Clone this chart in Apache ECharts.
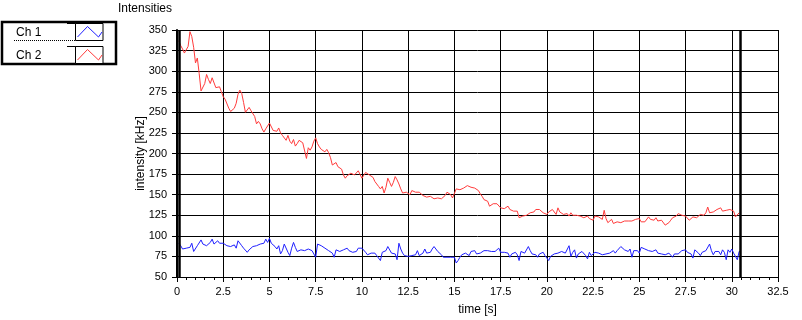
<!DOCTYPE html>
<html><head><meta charset="utf-8">
<script src="https://cdn.jsdelivr.net/npm/echarts@6/dist/echarts.min.js"></script>
<style>html,body{margin:0;padding:0;background:#fff}#c{width:802px;height:320px}</style>
</head><body><div id="c"></div><script>
const chartTitle = 'Intensities';
const channelNames = ['Ch 1', 'Ch 2'];
const channelColors = ['#1f1fff', '#ff3b3b'];
const xAxisName = 'time [s]';
const yAxisName = 'intensity [kHz]';
const xRange = { min: 0, max: 32.5, interval: 2.5 };
const yRange = { min: 50, max: 350, interval: 25 };
const cursorTimes = [0.1, 30.48];
const sampleStart = 0.1;
const sampleStep = 0.1;

// Ch 1 (blue), samples every 0.1 s starting at 0.1 s
const ch1Values = [
91,88,84,83,85,86,86,91,81,83,
88,89,95,90,88,88,90,92,96,90,
92,94,91,89,91,90,88,88,87,87,
89,85,94,93,88,85,86,80,83,83,
87,89,88,90,90,91,91,96,92,97,
91,90,87,84,88,78,82,90,88,80,
76,85,92,86,81,80,83,82,82,83,
84,85,82,80,74,90,89,88,87,85,
83,82,82,79,74,83,82,81,79,83,
82,85,82,84,80,82,81,85,84,85,
83,80,77,79,79,81,79,76,75,70,
80,79,82,87,85,79,79,78,71,91,
84,79,76,75,75,76,76,76,77,82,
76,78,79,84,79,80,80,84,87,86,
81,79,77,74,72,74,75,74,73,74,
67,70,74,77,78,79,80,76,81,79,
82,78,79,79,81,82,81,82,80,81,
81,81,82,85,80,82,80,78,79,74,
78,79,80,77,70,81,82,79,81,87,
82,78,78,77,74,78,80,80,76,75,
70,75,77,78,77,79,78,81,80,79,
78,88,75,80,83,73,78,80,81,79,
76,72,80,76,76,80,79,79,78,77,
78,78,80,79,80,82,79,82,82,87,
85,83,82,81,84,74,82,81,82,79,
86,86,84,84,82,81,81,79,83,79,
81,78,78,77,75,79,77,74,78,77,
78,80,82,81,83,80,80,78,73,83,
82,79,76,80,80,82,81,90,82,77,
81,79,81,77,83,80,71,83,80,84,
79,79,71,81,80
];

// Ch 2 (red), samples every 0.1 s starting at 0.1 s
const ch2Values = [
337,331,327,322,322,330,348,342,329,310,
316,297,276,274,285,296,290,285,292,291,
280,280,281,275,269,266,265,255,251,251,
255,261,272,277,273,262,250,248,256,252,
251,245,236,239,236,230,226,230,228,237,
238,228,228,227,231,225,222,220,216,222,
215,212,217,209,212,216,215,213,211,194,
207,204,208,215,219,212,208,205,203,202,
205,201,195,186,187,189,184,186,181,174,
170,173,175,176,174,174,176,179,179,170,
171,177,176,174,175,171,166,164,160,157,
160,152,159,170,165,160,165,172,168,163,
157,152,153,153,152,150,155,157,153,154,
153,152,149,149,147,147,148,149,145,147,
146,146,145,144,149,153,151,150,146,144,
157,159,156,158,158,160,161,163,159,157,
158,157,155,151,148,144,143,142,136,137,
139,140,139,140,134,134,133,135,136,132,
134,130,132,130,122,123,124,126,125,126,
128,129,129,132,133,132,131,128,127,126,
129,131,132,133,126,134,129,129,126,128,
127,124,128,125,124,125,123,124,124,122,
121,124,121,122,119,124,124,123,121,120,
131,121,116,118,120,115,114,117,115,116,
117,118,117,118,117,118,117,120,120,121,
117,116,117,117,123,120,118,119,122,118,
118,119,117,113,112,116,119,122,123,124,
127,126,125,125,124,124,119,119,123,124,
122,120,126,126,125,128,135,128,127,129,
131,132,134,134,130,132,131,133,132,131,
130,123,123,128
];

function toPairs(vals) {
  return vals.map((v, i) => [Math.round((sampleStart + i * sampleStep) * 100) / 100, v]);
}

const FONT = 'Liberation Sans';
const chart = echarts.init(document.getElementById('c'), null, { renderer: 'canvas' });

const legendGraphics = [];
legendGraphics.push({ type: 'rect', shape: { x: 2, y: 22, width: 114, height: 42 },
  style: { fill: '#fff', stroke: '#000', lineWidth: 2.5 }, z: 10 });
const rowTops = [23.5, 46.5];
channelNames.forEach((name, i) => {
  const top = rowTops[i];
  legendGraphics.push({ type: 'text', x: 16, y: top + 9, z: 11,
    style: { text: name, font: '12px "' + FONT + '"', fill: '#000', textVerticalAlign: 'middle' } });
  legendGraphics.push({ type: 'line', shape: { x1: 14, y1: top + 17, x2: 75, y2: top + 17 }, z: 11,
    style: { stroke: '#000', lineWidth: 1, lineDash: [1, 1] } });
  legendGraphics.push({ type: 'line', shape: { x1: 67, y1: top, x2: 103, y2: top }, z: 11,
    style: { stroke: '#000', lineWidth: 1 } });
  legendGraphics.push({ type: 'rect', shape: { x: 75.5, y: top, width: 27.5, height: 17 }, z: 11,
    style: { fill: '#fff', stroke: '#000', lineWidth: 1 } });
  legendGraphics.push({ type: 'polyline', z: 12,
    shape: { points: [[77.5, top + 13.5], [87.5, top + 3], [98.5, top + 13.5], [102, top + 8.5]] },
    style: { stroke: channelColors[i], lineWidth: 1, fill: null } });
});

chart.setOption({
  animation: false,
  backgroundColor: '#fff',
  textStyle: { fontFamily: FONT },
  title: { text: chartTitle, left: 118, top: 3, padding: 0,
    textStyle: { fontFamily: FONT, fontSize: 12, fontWeight: 'normal', color: '#000' } },
  graphic: legendGraphics,
  grid: { left: 177, top: 30, width: 601, height: 247, containLabel: false, outerBoundsMode: 'none' },
  xAxis: {
    type: 'value', min: xRange.min, max: xRange.max, interval: xRange.interval,
    name: xAxisName, nameLocation: 'middle', nameGap: 27, nameMoveOverlap: false,
    nameTextStyle: { fontFamily: FONT, fontSize: 12, color: '#000' },
    axisLine: { show: true, onZero: false, lineStyle: { color: '#000', width: 1 } },
    axisTick: { show: true, length: 5, lineStyle: { color: '#000' } },
    minorTick: { show: true, splitNumber: 5, length: 3, lineStyle: { color: '#000' } },
    axisLabel: { color: '#000', fontSize: 11, fontFamily: FONT, margin: 9, showMinLabel: true, showMaxLabel: true },
    splitLine: { show: true, lineStyle: { color: '#000', width: 1 } }
  },
  yAxis: {
    type: 'value', min: yRange.min, max: yRange.max, interval: yRange.interval,
    name: yAxisName, nameLocation: 'middle', nameGap: 30, nameMoveOverlap: false,
    nameTextStyle: { fontFamily: FONT, fontSize: 12, color: '#000' },
    axisLine: { show: true, onZero: false, lineStyle: { color: '#000', width: 2 } },
    axisTick: { show: true, length: 5, lineStyle: { color: '#000' } },
    axisLabel: { color: '#000', fontSize: 11, fontFamily: FONT, margin: 10 },
    splitLine: { show: true, lineStyle: { color: '#000', width: 1 } }
  },
  series: [
    { name: channelNames[0], type: 'line', data: toPairs(ch1Values), showSymbol: false, symbol: 'none',
      lineStyle: { color: channelColors[0], width: 1 }, itemStyle: { color: channelColors[0] }, z: 3 },
    { name: channelNames[1], type: 'line', data: toPairs(ch2Values), showSymbol: false, symbol: 'none',
      lineStyle: { color: channelColors[1], width: 1 }, itemStyle: { color: channelColors[1] }, z: 3,
      markLine: { silent: true, symbol: ['none', 'none'], label: { show: false },
        lineStyle: { color: '#000', width: 2.5, type: 'solid' },
        data: cursorTimes.map(t => ({ xAxis: t })) } }
  ]
});
</script></body></html>
